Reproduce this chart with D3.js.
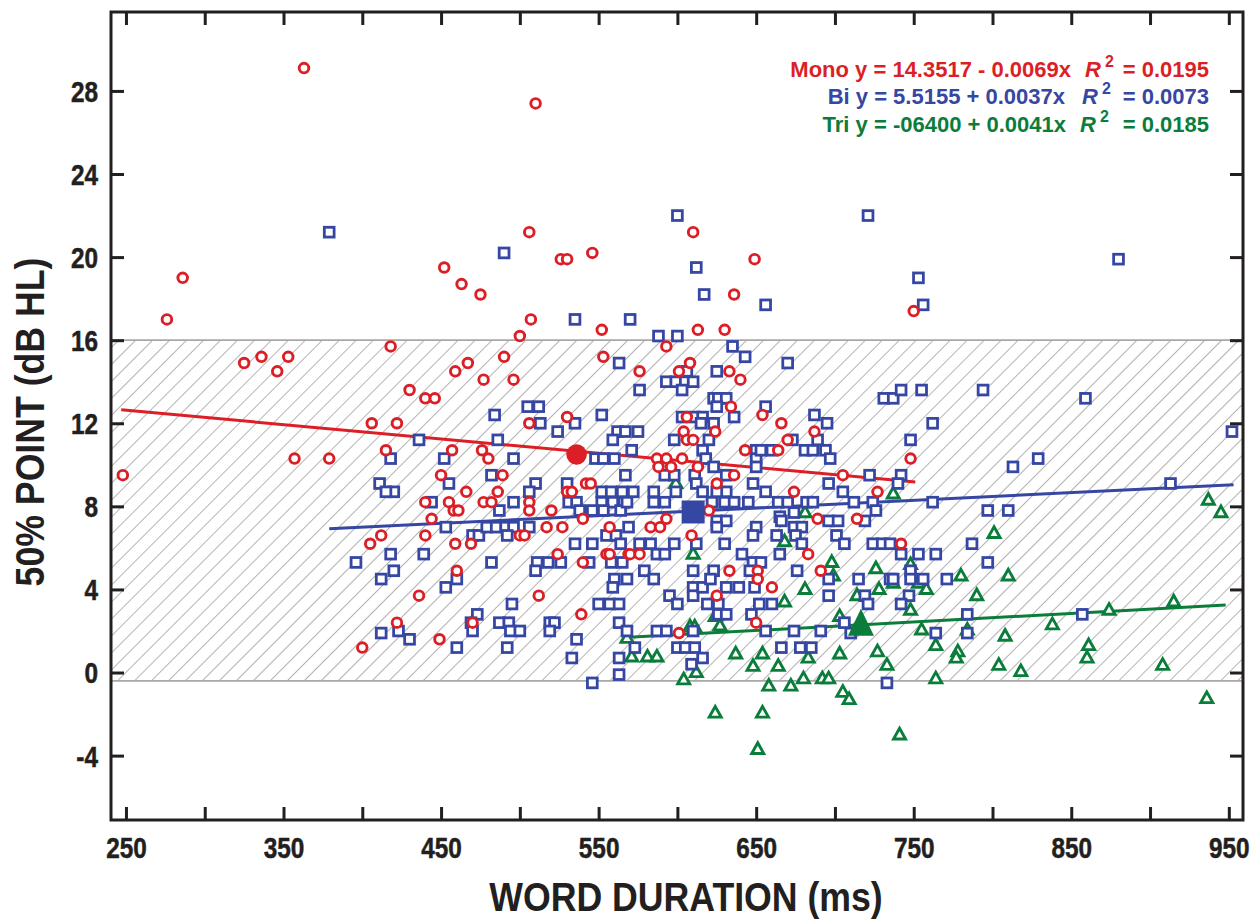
<!DOCTYPE html>
<html><head><meta charset="utf-8">
<script src="https://cdn.jsdelivr.net/npm/d3@7"></script>
<style>body{margin:0;background:#fff}svg{display:block}</style>
</head><body>
<svg id="c" width="1260" height="920"></svg>
<script>
// ---------------- DATA ----------------
// [word duration (ms), 50% point (dB HL)]
const monoPoints = [
[363,29.1],[510,27.4],[286,19.0],[276,17.0],[452,19.5],[463,18.7],[475,18.2],[506,21.2],[526,19.9],[530,19.9],[546,20.2],[507,17.0],[500,16.2],[610,21.2],[636,18.2],[649,19.9],[552,16.5],[613,16.5],[630,16.5],[750,17.4],
[593,15.7],[490,15.2],[553,15.2],[608,14.9],[477,14.1],[496,14.1],[576,14.5],[601,14.5],[633,14.5],[640,14.1],[634,12.8],[654,12.4],[606,12.3],[530,12.3],
[325,14.9],[336,15.2],[346,14.5],[353,15.2],[418,15.7],[430,13.6],[440,13.2],[446,13.2],[459,14.5],[467,14.9],
[248,9.5],[357,10.3],[379,10.3],[406,12.0],[422,12.0],[415,10.7],[412,6.6],[405,6.2],[422,2.4],[400,1.2],
[506,12.0],[457,10.7],[476,10.7],[480,10.3],[450,9.5],[489,9.5],[466,8.7],[486,8.7],[440,8.2],[455,8.2],[458,7.8],[461,7.8],[477,8.2],[482,8.2],[506,8.2],[506,7.8],[520,7.8],[444,7.4],[530,8.7],[533,8.7],[542,9.1],[545,9.1],[540,7.4],
[666,12.0],[604,11.6],[624,11.6],[687,11.6],[606,11.2],[610,11.2],[670,11.2],[643,10.7],[664,10.7],[587,10.3],[593,10.3],[603,10.3],[588,9.9],[596,9.9],[613,9.9],[636,9.5],[625,9.1],[674,8.7],[705,9.5],[620,7.8],[593,7.4],[689,7.4],[714,7.4],
[440,6.6],[459,6.2],[469,6.2],[500,6.6],[503,6.6],[517,7.0],[527,7.0],[557,7.0],[524,5.7],[540,5.3],[555,5.7],[557,5.7],[569,5.7],[460,4.9],[436,3.7],[512,3.7],[539,2.8],[470,2.4],[449,1.6],
[583,7.0],[589,7.0],[609,6.6],[570,5.7],[576,5.7],[683,5.7],[633,4.9],[651,4.9],[651,4.5],[691,4.9],[660,4.1],[625,3.7],[650,2.4],[601,1.9],
[748,10.3],[727,8.7],[742,6.2]
];
const biPoints = [
[379,21.2],[490,20.2],[600,22.0],[721,22.0],[612,19.5],[617,18.2],[656,17.7],[535,17.0],[570,17.0],[588,16.2],[600,16.2],[753,19.0],[756,17.7],[880,19.9],
[635,15.7],[643,15.2],[563,14.9],[670,14.9],[576,13.6],[593,14.0],[599,14.0],[605,14.0],[610,14.0],[606,14.5],[603,13.6],[625,14.5],[623,13.2],[626,13.2],[631,13.2],[625,12.8],[656,12.8],[636,12.3],[603,12.3],[611,12.3],[616,12.3],[615,12.0],[623,12.0],[687,12.4],[695,12.0],[552,12.4],[484,12.4],[505,12.8],[512,12.8],
[731,13.2],[737,13.2],[742,13.6],[755,13.6],[794,13.6],[859,13.2],[762,12.0],[748,11.2],[952,11.6],[829,10.3],[813,9.9],[722,9.5],[742,9.5],[740,9.1],[913,9.1],[712,8.2],[724,8.2],[762,8.2],[726,7.8],[719,7.3],[797,7.8],[810,7.8],[724,6.2],[730,6.2],[735,6.2],[742,5.7],[753,5.7],[764,5.7],[787,6.2],[797,5.3],[715,4.5],[735,4.5],[737,4.5],[748,4.9],[748,4.5],[756,4.5],[771,4.5],[719,3.7],[721,3.3],[747,3.7],[742,3.3],[784,2.8],[857,2.8],[764,1.9],[784,1.9],[710,1.9],[733,-0.5],
[513,12.0],[535,12.0],[524,11.6],[562,11.6],[567,11.6],[559,11.2],[436,11.2],[486,11.2],[418,10.3],[452,10.3],[496,10.3],[548,10.3],[553,10.3],[560,10.3],[571,10.7],[482,9.5],[455,9.1],[510,9.1],[530,9.1],[420,8.7],[506,8.7],[444,8.2],[496,8.2],[487,7.8],[531,8.2],[536,8.2],[552,8.2],[559,8.2],[566,8.2],[538,7.8],[546,7.8],[553,7.8],[564,7.8],[552,8.7],[558,8.7],[565,8.7],
[453,7.0],[470,6.6],[474,6.6],[479,7.0],[485,7.0],[491,7.0],[496,7.0],[506,7.0],[492,6.6],[418,5.7],[439,5.7],[420,4.9],[482,5.3],[535,6.2],[546,6.2],[511,5.3],[518,5.3],[526,5.3],[510,4.9],[544,5.3],[555,6.6],[561,6.6],[564,6.2],[558,5.3],[565,5.3],[560,4.5],[568,4.5],[559,4.1],[453,4.1],[460,4.5],[495,3.3],[473,2.8],[469,2.4],[470,2.0],[487,2.4],[493,2.4],[494,2.0],[500,2.0],[519,2.4],[522,2.4],[519,2.0],[492,1.2],[460,1.2],[423,2.0],[430,1.6],[536,1.6],[533,0.7],[550,3.3],[557,3.3],[563,3.3],[563,2.4],[563,0.7],[563,-0.1],[546,-0.5],[568,2.0],
[411,9.1],[415,8.7],[396,5.3],[412,4.5],[412,1.9],
[575,11.6],[567,9.5],[598,11.2],[620,11.2],[616,10.7],[618,10.3],[623,9.9],[592,9.5],[598,9.5],[611,9.5],[631,9.5],[650,10.7],[650,10.3],[650,9.9],[653,10.7],[660,10.7],[673,11.2],[681,10.7],[686,10.7],[694,10.7],[689,11.2],[697,10.3],[648,9.1],[656,8.7],[696,9.1],[612,9.1],[616,8.7],[599,8.7],[585,8.7],[572,8.7],[568,8.2],[585,8.2],[592,8.2],[631,8.7],[625,8.7],[622,8.2],[630,8.2],[636,8.2],[645,8.2],[664,8.2],[670,8.2],[682,8.2],[686,8.2],[705,8.7],[665,7.5],[674,7.7],
[569,7.0],[576,6.2],[583,6.2],[598,6.2],[587,5.7],[592,5.7],[612,6.2],[625,7.3],[631,7.3],[625,7.0],[630,6.2],[650,7.0],[648,6.6],[663,6.6],[666,7.3],[674,7.0],[679,7.0],[675,6.6],[679,6.2],[696,7.3],[702,7.3],[701,6.6],[706,6.2],[641,5.7],[665,5.7],[579,4.9],[585,4.5],[610,4.9],[610,4.1],[610,3.7],[616,4.1],[623,4.9],[621,4.5],[648,5.3],[653,5.3],[646,4.9],[631,4.1],[639,4.1],[649,4.1],[676,4.9],[696,4.5],[696,3.7],[595,3.7],[600,3.3],[619,3.3],[626,3.3],[626,2.8],[631,2.8],[652,3.3],[660,3.3],[647,2.8],[587,2.0],[593,2.0],[610,2.0],[656,2.0],[674,2.0],[691,2.0],[706,2.4],[573,1.2],[600,1.2],[605,1.2],[611,1.2],[616,0.7],[609,0.4],[666,1.2],[678,1.2],[685,1.2]
];
const triPoints = [
[937,8.3],[945,7.7],[801,6.7],[726,5.0],[737,8.6],[780,4.65],[810,4.65],[728,4.0],[714,3.7],[737,4.3],[753,4.3],[758,4.0],[748,5.2],[790,3.7],[748,3.0],[874,3.0],[915,3.4],[838,2.3],[755,2.05],[784,2.05],[808,1.75],[764,1.3],[861,1.3],[860,0.7],[727,1.0],[778,1.0],[777,0.7],[733,0.35],[804,0.35],[908,0.35],[818,0.05],[764,-0.3],[936,-1.25],[741,-3.0],[705,-0.95],[709,-1.3],
[681,7.7],[668,6.3],[698,5.3],[699,4.65],[681,4.0],[668,3.4],[703,2.7],[627,2.25],[610,5.7],[608,2.2],[611,2.2],[624,2.7],[571,0.75],[581,0.75],[587,0.75],[612,0.0],[604,-0.35],[637,0.9],[654,0.9],[648,0.3],[664,0.3],[683,0.7],[703,0.9],[658,-0.65],[672,-0.65],[680,-0.3],[692,-0.3],[696,-0.3],[568,1.65],[599,9.1],[624,-1.95],[654,-1.95],[651,-3.7]
];
// group means
const monoMean = [536, 10.5];
const biMean = [610, 7.73];
const triMean = [716.5, 2.4];
// regression fits: intercept, slope, x-range
const fitNames = ["Mono", "Bi", "Tri"];
const fitIntercepts = [14.3517, 5.5155, -0.64];
const fitSlopes = [-0.0069, 0.0037, 0.0041];
const fitRanges = [[247, 751], [379, 953], [566, 948]];
// legend text
const legendFormulas = ["Mono y = 14.3517 - 0.0069x", "Bi y = 5.5155 + 0.0037x", "Tri y = -06400 + 0.0041x"];
const legendR2 = ["= 0.0195", "= 0.0073", "= 0.0185"];
// reference band (dB HL)
const bandRange = [-0.4, 16];
// axes
const xTickValues = [250,300,350,400,450,500,550,600,650,700,750,800,850,900,950];
const xTickLabels = ["250","","350","","450","","550","","650","","750","","850","","950"];
const yTickValues = [-4,0,4,8,12,16,20,24,28];
const yTickLabels = ["-4","0","4","8","12","16","20","24","28"];
const xTitle = "WORD DURATION (ms)";
const yTitle = "50% POINT (dB HL)";

// ---------------- DRAW ----------------
const C = {mono:"#dc1f26", bi:"#3646a3", tri:"#0b7d3b", ink:"#231f20"};
const FONT = "'Liberation Sans', Arial, Helvetica, sans-serif";
const L = 111, R = 1243, T = 12, B = 820;
const x = d3.scaleLinear().domain([240.5, 959]).range([L, R]);
const y = d3.scaleLinear().domain([-7.1, 31.8]).range([B, T]);
const svg = d3.select("#c");

const defs = svg.append("defs");
const pat = defs.append("pattern").attr("id","hatch").attr("patternUnits","userSpaceOnUse")
  .attr("width",12).attr("height",12).attr("patternTransform","rotate(45)");
pat.append("line").attr("x1",0).attr("y1",-2).attr("x2",0).attr("y2",14)
  .attr("stroke","#999").attr("stroke-width",1.5);
defs.append("clipPath").attr("id","plotclip").append("rect")
  .attr("x",L).attr("y",T).attr("width",R-L).attr("height",B-T);

// hatched band
svg.append("rect").attr("x",L).attr("y",y(bandRange[1])).attr("width",R-L)
  .attr("height",y(bandRange[0])-y(bandRange[1])).attr("fill","url(#hatch)");
bandRange.forEach(v=>{
  svg.append("line").attr("x1",L).attr("x2",R).attr("y1",y(v)).attr("y2",y(v))
    .attr("stroke","#a8a8a8").attr("stroke-width",1.8);
});

// regression lines
const fitColors = [C.mono, C.bi, C.tri];
const gFit = svg.append("g").attr("clip-path","url(#plotclip)");
fitNames.forEach((n,i)=>{
  const pts = fitRanges[i].map(v=>[v, fitIntercepts[i] + fitSlopes[i]*v]);
  gFit.append("path").attr("d", d3.line().x(d=>x(d[0])).y(d=>y(d[1]))(pts))
    .attr("stroke", fitColors[i]).attr("stroke-width",3).attr("fill","none");
});

const gPts = svg.append("g").attr("clip-path","url(#plotclip)");
// triangles (Tri)
gPts.selectAll("path.tri").data(triPoints).enter().append("path").attr("class","tri")
  .attr("d","M0,-6.6L6,4.1L-6,4.1Z")
  .attr("transform",d=>`translate(${x(d[0])},${y(d[1])})`)
  .attr("fill","#fff").attr("stroke",C.tri).attr("stroke-width",2.9).attr("stroke-linejoin","miter");
// squares (Bi)
gPts.selectAll("rect.bi").data(biPoints).enter().append("rect").attr("class","bi")
  .attr("x",d=>x(d[0])-4.9).attr("y",d=>y(d[1])-4.9).attr("width",9.8).attr("height",9.8)
  .attr("fill","#fff").attr("stroke",C.bi).attr("stroke-width",2.8);
// circles (Mono)
gPts.selectAll("circle.mono").data(monoPoints).enter().append("circle").attr("class","mono")
  .attr("cx",d=>x(d[0])).attr("cy",d=>y(d[1])).attr("r",4.8)
  .attr("fill","#fff").attr("stroke",C.mono).attr("stroke-width",2.9);

// means
svg.append("circle").attr("cx",x(monoMean[0])).attr("cy",y(monoMean[1])).attr("r",10.3).attr("fill",C.mono);
svg.append("rect").attr("x",x(biMean[0])-11.5).attr("y",y(biMean[1])-11.5).attr("width",23).attr("height",23).attr("fill",C.bi);
svg.append("path").attr("d","M0,-14L13,13L-13,13Z")
  .attr("transform",`translate(${x(triMean[0])},${y(triMean[1])})`).attr("fill",C.tri);

// axes
const xTickFmt = (d)=> xTickLabels[xTickValues.indexOf(d)];
const yTickFmt = (d)=> yTickLabels[yTickValues.indexOf(d)];
const gxb = svg.append("g").attr("transform",`translate(0,${B})`)
  .call(d3.axisBottom(x).tickValues(xTickValues).tickFormat(xTickFmt).tickSizeInner(-13).tickSizeOuter(0));
const gxt = svg.append("g").attr("transform",`translate(0,${T})`)
  .call(d3.axisTop(x).tickValues(xTickValues).tickFormat("").tickSizeInner(-13).tickSizeOuter(0));
const gyl = svg.append("g").attr("transform",`translate(${L},0)`)
  .call(d3.axisLeft(y).tickValues(yTickValues).tickFormat(yTickFmt).tickSizeInner(-13).tickSizeOuter(0));
const gyr = svg.append("g").attr("transform",`translate(${R},0)`)
  .call(d3.axisRight(y).tickValues(yTickValues).tickFormat("").tickSizeInner(-13).tickSizeOuter(0));
[gxb,gxt,gyl,gyr].forEach(g=>{
  g.select(".domain").remove();
  g.selectAll(".tick line").attr("stroke",C.ink).attr("stroke-width",3);
});
gxb.selectAll(".tick text").attr("y",0).attr("dy",null)
  .attr("transform","translate(0,38) scale(0.84,1)")
  .attr("fill",C.ink).attr("stroke",C.ink).attr("stroke-width",0.5)
  .style("font-family",FONT).style("font-weight","bold").style("font-size","29px");
gyl.selectAll(".tick text").attr("x",0).attr("dy","0.36em")
  .attr("transform","translate(-13,0) scale(0.84,1)")
  .attr("fill",C.ink).attr("stroke",C.ink).attr("stroke-width",0.5)
  .style("font-family",FONT).style("font-weight","bold").style("font-size","29px");

// frame
svg.append("rect").attr("x",L).attr("y",T).attr("width",R-L).attr("height",B-T)
  .attr("fill","none").attr("stroke",C.ink).attr("stroke-width",3);

// titles
svg.append("text").attr("transform",`translate(${(L+R)/2+9},911) scale(0.87,1)`)
  .attr("text-anchor","middle").attr("fill",C.ink)
  .style("font-family",FONT).style("font-weight","bold").style("font-size","41px").text(xTitle);
svg.append("text").attr("transform",`translate(44,${(T+B)/2+6}) rotate(-90) scale(0.87,1)`)
  .attr("text-anchor","middle").attr("fill",C.ink)
  .style("font-family",FONT).style("font-weight","bold").style("font-size","41px").text(yTitle);

// legend
const legY = [77, 104, 132];
const legFormulaEnd = [1071, 1065, 1066];
const legREnd = [1085, 1082, 1080];
legendFormulas.forEach((t,i)=>{
  const col = fitColors[i];
  svg.append("text").attr("x",legFormulaEnd[i]).attr("y",legY[i]).attr("text-anchor","end")
    .attr("fill",col).style("font-family",FONT).style("font-weight","bold").style("font-size","22px").text(t);
  svg.append("text").attr("x",legREnd[i]).attr("y",legY[i])
    .attr("fill",col).style("font-family",FONT).style("font-weight","bold").style("font-style","italic").style("font-size","22px").text("R");
  svg.append("text").attr("x",legREnd[i]+20).attr("y",legY[i]-10)
    .attr("fill",col).style("font-family",FONT).style("font-weight","bold").style("font-size","16px").text("2");
  svg.append("text").attr("x",1209).attr("y",legY[i]).attr("text-anchor","end")
    .attr("fill",col).style("font-family",FONT).style("font-weight","bold").style("font-size","22px").text(legendR2[i]);
});
</script>
</body></html>
